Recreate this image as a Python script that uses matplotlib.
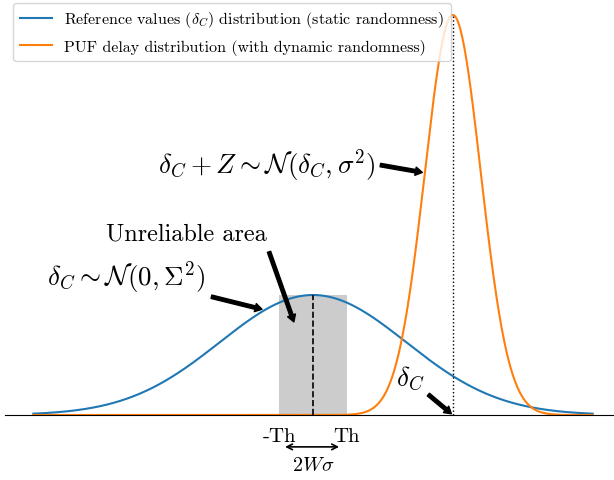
import numpy as np
import matplotlib
matplotlib.use("Agg")
import matplotlib.pyplot as plt

plt.rcParams["font.family"] = "cmr10"
plt.rcParams["mathtext.fontset"] = "cm"
plt.rcParams["axes.unicode_minus"] = False
plt.rcParams["axes.formatter.use_mathtext"] = True

# -----------------------------
# Model parameters
# -----------------------------
big_sigma = 1.0      # static randomness
delta_c = 1.5        # reference value of this PUF
small_sigma = 0.3    # dynamic randomness
th = 0.36            # threshold (W * sigma)
x_range = [-3.0, 3.0]

x = np.linspace(x_range[0], x_range[1], 1000)
ref_pdf = np.exp(-x**2 / (2 * big_sigma**2)) / (big_sigma * np.sqrt(2 * np.pi))
puf_pdf = np.exp(-(x - delta_c)**2 / (2 * small_sigma**2)) / (small_sigma * np.sqrt(2 * np.pi))
ref_peak = 1 / (big_sigma * np.sqrt(2 * np.pi))
puf_peak = 1 / (small_sigma * np.sqrt(2 * np.pi))

# -----------------------------
# Figure
# -----------------------------
fig = plt.figure(figsize=(6.14, 4.81), dpi=100)
ax = fig.add_axes([5.4 / 614, 65 / 481, 615.2 / 614, 416 / 481])

ax.plot(x, ref_pdf, label=r"Reference values ($\delta_C$) distribution (static randomness)")
ax.plot(x, puf_pdf, label="PUF delay distribution (with dynamic randomness)")

xs = np.linspace(-th, th, 50)
ax.fill_between(xs, 0, ref_peak, color="0.8", lw=0)
ax.plot([0, 0], [0, ref_peak], "k--", lw=1.2)
ax.plot([delta_c, delta_c], [0, puf_peak], "k:", lw=1.0)

ax.set_xlim(-3.3, 3.3)
ax.set_ylim(0, 1.383)
ax.set_xticks([])
ax.set_yticks([])
for s in ["top", "left", "right"]:
    ax.spines[s].set_visible(False)

arrow = dict(facecolor="black", edgecolor="black", shrink=0.05, width=2.5, headwidth=6, headlength=5)

ax.annotate(r"$\delta_C + Z \sim \mathcal{N}(\delta_C, \sigma^2)$", xy=(1.2, 0.805), xytext=(-0.5, 0.834),
            ha="center", va="center", fontsize=19.5, arrowprops=arrow)
ax.annotate("Unreliable area", xy=(-0.19, 0.296), xytext=(-1.36, 0.602),
            ha="center", va="center", fontsize=17.5, arrowprops=arrow)
ax.annotate(r"$\delta_C \sim \mathcal{N}(0, \Sigma^2)$", xy=(-0.515, 0.349), xytext=(-2.0, 0.459),
            ha="center", va="center", fontsize=19.5, arrowprops=arrow)
ax.annotate(r"$\delta_C$", xy=(delta_c, 0), xytext=(1.04, 0.126),
            ha="center", va="center", fontsize=19.5, arrowprops=arrow)

ax.text(-th, -0.07, "-Th", ha="center", va="center", fontsize=15)
ax.text(th, -0.07, "Th", ha="center", va="center", fontsize=15)
ax.annotate("", xy=(-0.33, -0.106), xytext=(0.31, -0.106),
            arrowprops=dict(arrowstyle="<->", color="black", lw=1.2), annotation_clip=False)
ax.text(0, -0.166, r"$2W\sigma$", ha="center", va="center", fontsize=14.5)

ax.legend(loc="upper left", bbox_to_anchor=(0, 1.01), fontsize=11.5, labelspacing=0.6)

fig.savefig("out.png", dpi=100)
